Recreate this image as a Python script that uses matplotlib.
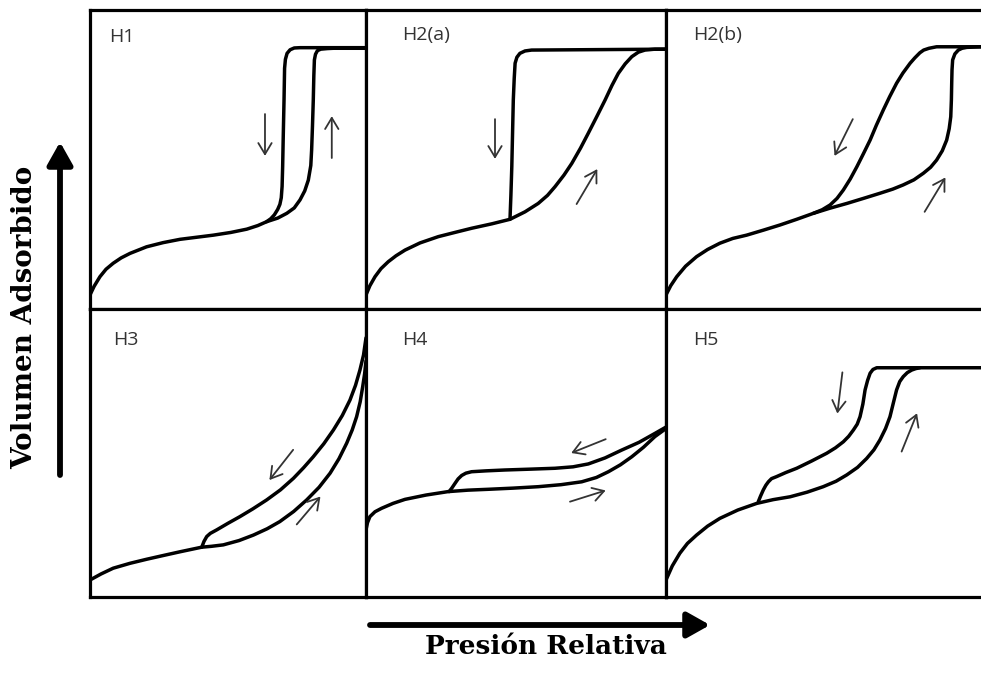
"""
Hysteresis loop types (IUPAC H1-H5) drawn as a 2x3 sketch grid.
"""

import numpy as np
import matplotlib
matplotlib.use("Agg")
import matplotlib.pyplot as plt

W, H = 981, 673

# ------------------------------------------------------------
# Data: relative pressure (0-1) vs adsorbed volume (0-1), per branch
# ------------------------------------------------------------
H1_ADS = [(0.0, 0.047), (0.015, 0.076), (0.036, 0.108), (0.058, 0.133), (0.084, 0.153),
          (0.113, 0.171), (0.145, 0.186), (0.205, 0.208), (0.265, 0.222), (0.326, 0.233),
          (0.447, 0.247), (0.510, 0.256), (0.568, 0.267), (0.608, 0.279), (0.640, 0.292),
          (0.680, 0.304), (0.713, 0.320), (0.740, 0.338), (0.761, 0.365), (0.778, 0.395),
          (0.791, 0.431), (0.800, 0.480), (0.803, 0.532), (0.806, 0.610), (0.809, 0.699),
          (0.811, 0.780), (0.813, 0.833), (0.817, 0.852), (0.824, 0.864), (0.836, 0.869),
          (0.860, 0.871), (0.882, 0.872), (1.0, 0.872)]
H1_DES = [(1.0, 0.874), (0.761, 0.874), (0.740, 0.873), (0.725, 0.867), (0.714, 0.855),
          (0.708, 0.835), (0.705, 0.805), (0.703, 0.699), (0.700, 0.570), (0.698, 0.476),
          (0.696, 0.410), (0.693, 0.372), (0.688, 0.350), (0.680, 0.333), (0.668, 0.315),
          (0.655, 0.302), (0.640, 0.292)]

H2A_ADS = [(0.0, 0.047), (0.013, 0.078), (0.03, 0.108), (0.05, 0.135), (0.074, 0.158),
           (0.10, 0.178), (0.13, 0.197), (0.18, 0.221), (0.241, 0.242), (0.30, 0.257),
           (0.352, 0.270), (0.42, 0.285), (0.48, 0.30), (0.53, 0.325), (0.574, 0.353),
           (0.605, 0.380), (0.63, 0.409), (0.66, 0.448), (0.686, 0.487), (0.715, 0.538),
           (0.741, 0.588), (0.770, 0.645), (0.797, 0.699), (0.820, 0.748), (0.841, 0.788),
           (0.864, 0.820), (0.886, 0.844), (0.908, 0.859), (0.93, 0.866), (0.963, 0.869),
           (1.0, 0.869)]
H2A_DES = [(1.0, 0.869), (0.552, 0.866), (0.530, 0.863), (0.513, 0.855), (0.503, 0.842),
           (0.497, 0.822), (0.494, 0.770), (0.491, 0.699), (0.486, 0.476), (0.483, 0.380),
           (0.48, 0.30)]

H2B_ADS = [(0.0, 0.047), (0.015, 0.078), (0.034, 0.108), (0.062, 0.143), (0.097, 0.175),
           (0.132, 0.199), (0.171, 0.22), (0.212, 0.236), (0.256, 0.247), (0.310, 0.264),
           (0.362, 0.281), (0.415, 0.300), (0.468, 0.32), (0.520, 0.337), (0.574, 0.353),
           (0.627, 0.370), (0.679, 0.387), (0.720, 0.401), (0.753, 0.415), (0.787, 0.432),
           (0.817, 0.454), (0.840, 0.474), (0.859, 0.498), (0.877, 0.529), (0.891, 0.565),
           (0.899, 0.603), (0.904, 0.643), (0.906, 0.700), (0.907, 0.755), (0.908, 0.800),
           (0.91, 0.833), (0.917, 0.853), (0.928, 0.866), (0.940, 0.872), (0.955, 0.875),
           (1.0, 0.877)]
H2B_DES = [(1.0, 0.877), (0.859, 0.877), (0.835, 0.872), (0.818, 0.866), (0.806, 0.857),
           (0.790, 0.840), (0.775, 0.822), (0.752, 0.789), (0.732, 0.755), (0.710, 0.710),
           (0.69, 0.666), (0.668, 0.615), (0.648, 0.565), (0.627, 0.520), (0.606, 0.476),
           (0.585, 0.435), (0.563, 0.398), (0.543, 0.370), (0.521, 0.348), (0.496, 0.332),
           (0.468, 0.32)]

H3_ADS = [(0.0, 0.059), (0.040, 0.080), (0.084, 0.10), (0.145, 0.117), (0.205, 0.131),
          (0.265, 0.144), (0.326, 0.157), (0.405, 0.173), (0.440, 0.176), (0.483, 0.181),
          (0.540, 0.196), (0.592, 0.215), (0.642, 0.237), (0.688, 0.262), (0.738, 0.297),
          (0.785, 0.337), (0.830, 0.381), (0.87, 0.43), (0.902, 0.480), (0.93, 0.534),
          (0.950, 0.580), (0.966, 0.626), (0.979, 0.678), (0.988, 0.73), (0.995, 0.775),
          (1.0, 0.82)]
H3_DES = [(1.0, 0.90), (0.991, 0.840), (0.978, 0.788), (0.962, 0.735), (0.942, 0.684),
          (0.914, 0.630), (0.882, 0.58), (0.847, 0.532), (0.809, 0.487), (0.774, 0.449),
          (0.737, 0.412), (0.690, 0.372), (0.64, 0.337), (0.590, 0.306), (0.543, 0.279),
          (0.500, 0.256), (0.459, 0.233), (0.436, 0.221), (0.423, 0.21), (0.413, 0.193),
          (0.405, 0.173)]

H4_ADS = [(0.0, 0.233), (0.005, 0.258), (0.013, 0.279), (0.030, 0.296), (0.052, 0.308),
          (0.090, 0.325), (0.13, 0.339), (0.20, 0.354), (0.274, 0.366), (0.340, 0.371),
          (0.408, 0.374), (0.490, 0.378), (0.574, 0.383), (0.650, 0.390), (0.719, 0.40),
          (0.768, 0.415), (0.808, 0.435), (0.848, 0.459), (0.886, 0.487), (0.925, 0.520),
          (0.963, 0.557), (1.0, 0.585)]
H4_DES = [(1.0, 0.59), (0.963, 0.568), (0.910, 0.537), (0.852, 0.51), (0.797, 0.483),
          (0.741, 0.462), (0.690, 0.452), (0.63, 0.447), (0.550, 0.444), (0.463, 0.441),
          (0.400, 0.438), (0.352, 0.435), (0.333, 0.430), (0.319, 0.422), (0.307, 0.410),
          (0.297, 0.395), (0.286, 0.378), (0.277, 0.366)]

H5_ADS = [(0.0, 0.059), (0.020, 0.108), (0.044, 0.152), (0.068, 0.186), (0.097, 0.215),
          (0.132, 0.246), (0.171, 0.273), (0.228, 0.302), (0.288, 0.325), (0.340, 0.338),
          (0.394, 0.348), (0.448, 0.364), (0.499, 0.383), (0.540, 0.402), (0.574, 0.424),
          (0.608, 0.450), (0.637, 0.481), (0.660, 0.511), (0.679, 0.545), (0.697, 0.585),
          (0.711, 0.626), (0.722, 0.675), (0.732, 0.719), (0.742, 0.748), (0.753, 0.765),
          (0.766, 0.779), (0.78, 0.788), (0.793, 0.793), (0.806, 0.796), (1.0, 0.796)]
H5_DES = [(0.806, 0.796), (0.669, 0.796), (0.657, 0.790), (0.648, 0.777), (0.640, 0.752),
          (0.632, 0.719), (0.625, 0.670), (0.616, 0.626), (0.607, 0.600), (0.595, 0.58),
          (0.580, 0.558), (0.563, 0.539), (0.538, 0.518), (0.51, 0.499), (0.462, 0.472),
          (0.415, 0.447), (0.380, 0.432), (0.351, 0.418), (0.335, 0.411), (0.325, 0.40),
          (0.317, 0.388), (0.309, 0.372), (0.300, 0.350), (0.293, 0.331)]

# small direction arrows: (tail, head)
H1_ARROWS = [((0.634, 0.652), (0.634, 0.512)), ((0.876, 0.505), (0.876, 0.645))]
H2A_ARROWS = [((0.43, 0.635), (0.43, 0.502)), ((0.702, 0.351), (0.771, 0.468))]
H2B_ARROWS = [((0.593, 0.635), (0.535, 0.512)), ((0.821, 0.325), (0.887, 0.440))]
H3_ARROWS = [((0.736, 0.511), (0.650, 0.406)), ((0.749, 0.252), (0.835, 0.349))]
H4_ARROWS = [((0.799, 0.548), (0.684, 0.500)), ((0.68, 0.331), (0.799, 0.370))]
H5_ARROWS = [((0.56, 0.780), (0.544, 0.637)), ((0.748, 0.505), (0.797, 0.638))]

LABELS = ["H1", "H2(a)", "H2(b)", "H3", "H4", "H5"]
BRANCHES = [(H1_ADS, H1_DES), (H2A_ADS, H2A_DES), (H2B_ADS, H2B_DES),
            (H3_ADS, H3_DES), (H4_ADS, H4_DES), (H5_ADS, H5_DES)]
ARROWS = [H1_ARROWS, H2A_ARROWS, H2B_ARROWS, H3_ARROWS, H4_ARROWS, H5_ARROWS]

# ------------------------------------------------------------
# Layout (pixel boxes: left, top, right, bottom)
# ------------------------------------------------------------
BOXES = [(90, 10, 366, 309), (366, 10, 666, 309), (666, 10, 981, 309),
         (90, 309, 366, 597), (366, 309, 666, 597), (666, 309, 981, 597)]
LABEL_POS = [(0.070, 0.91), (0.122, 0.916), (0.086, 0.916),
             (0.082, 0.892), (0.122, 0.892), (0.086, 0.892)]

fig = plt.figure(figsize=(W / 100, H / 100), dpi=100)
fig.patch.set_facecolor("white")

for i, (l, t, r, b) in enumerate(BOXES):
    ax = fig.add_axes([l / W, 1 - b / H, (r - l) / W, (b - t) / H])
    ax.set_xlim(0, 1)
    ax.set_ylim(0, 1)
    ax.set_xticks([])
    ax.set_yticks([])
    for side, sp in ax.spines.items():
        sp.set_linewidth(2.3)
        sp.set_color("black")
    if r >= W:
        ax.spines["right"].set_visible(False)

    for branch in BRANCHES[i]:
        pts = np.array(branch)
        ax.plot(pts[:, 0], pts[:, 1], color="black", lw=2.5,
                solid_capstyle="round", solid_joinstyle="round")

    for tail, head in ARROWS[i]:
        ax.annotate("", xy=head, xytext=tail,
                    arrowprops=dict(arrowstyle="->,head_length=0.5,head_width=0.3",
                                    lw=1.3, color="#333333",
                                    mutation_scale=16, shrinkA=0, shrinkB=0))

    lx, ly = LABEL_POS[i]
    ax.text(lx, ly, LABELS[i], transform=ax.transAxes, ha="left", va="center",
            fontsize=14, color="#333333", family=["Open Sans", "DejaVu Sans"])

# ------------------------------------------------------------
# Overlay: axis arrows and titles
# ------------------------------------------------------------
ov = fig.add_axes([0, 0, 1, 1])
ov.set_xlim(0, W)
ov.set_ylim(H, 0)
ov.axis("off")

big = dict(arrowstyle="-|>,head_length=0.8,head_width=0.45", lw=4.2, color="black",
           mutation_scale=17, shrinkA=0, shrinkB=0)
ov.annotate("", xy=(60, 142), xytext=(60, 475), arrowprops=big)
ov.annotate("", xy=(710, 625), xytext=(370, 625), arrowprops=big)

ov.text(25, 317, "Volumen Adsorbido", rotation=90, ha="center", va="center",
        fontsize=20, fontweight="bold", family=["DejaVu Serif"])
ov.text(546, 646, "Presión Relativa", ha="center", va="center",
        fontsize=19, fontweight="bold", family=["DejaVu Serif"])

fig.savefig("out.png", dpi=100)
